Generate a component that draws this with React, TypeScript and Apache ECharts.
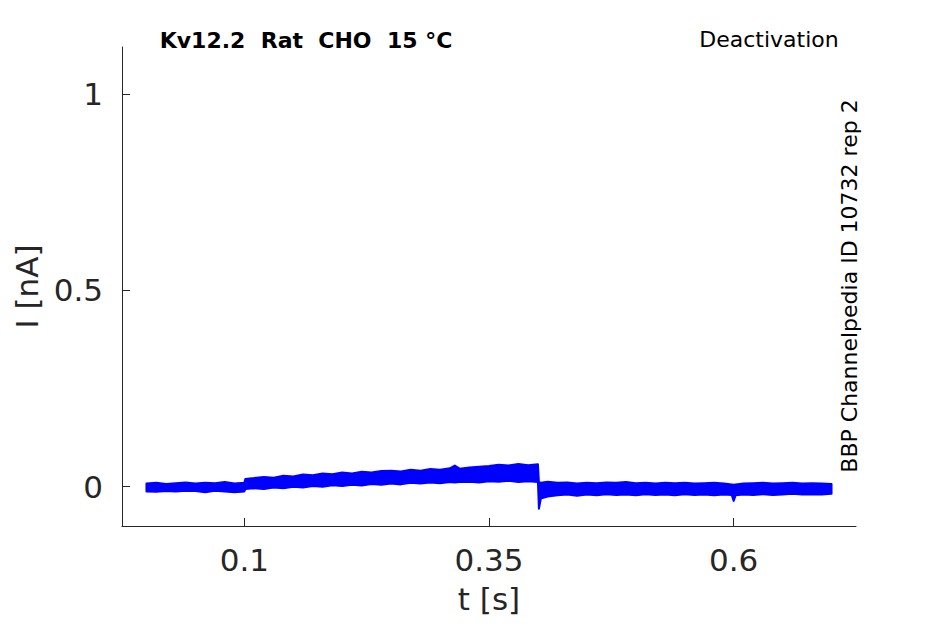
import React, { useEffect, useRef } from "react";
import * as echarts from "echarts";

const times = [
  0.0, 0.01, 0.02, 0.03, 0.04, 0.05, 0.06, 0.07, 0.08, 0.09, 0.1, 0.101, 0.11, 0.12, 0.13, 0.14,
  0.15, 0.16, 0.17, 0.18, 0.19, 0.2, 0.21, 0.22, 0.23, 0.24, 0.25, 0.26, 0.27, 0.28, 0.29, 0.3,
  0.31, 0.315, 0.32, 0.33, 0.34, 0.35, 0.36, 0.37, 0.38, 0.39, 0.4, 0.401, 0.403, 0.41, 0.42,
  0.43, 0.44, 0.45, 0.46, 0.47, 0.48, 0.49, 0.5, 0.51, 0.52, 0.53, 0.54, 0.55, 0.56, 0.57, 0.58,
  0.59, 0.598, 0.6, 0.602, 0.61, 0.62, 0.63, 0.64, 0.65, 0.66, 0.67, 0.68, 0.69, 0.7,
];
const upperEnvelope = [
  0.008, 0.01, 0.007, 0.009, 0.011, 0.008, 0.01, 0.009, 0.012, 0.008, 0.01, 0.02, 0.022, 0.025,
  0.023, 0.028, 0.026, 0.031, 0.029, 0.034, 0.032, 0.036, 0.034, 0.038, 0.036, 0.04, 0.041, 0.039,
  0.043, 0.041, 0.045, 0.043, 0.047, 0.054, 0.046, 0.049, 0.051, 0.053, 0.056, 0.054, 0.058,
  0.055, 0.057, 0.012, 0.01, 0.013, 0.01, 0.011, 0.008, 0.01, 0.009, 0.011, 0.01, 0.012, 0.009,
  0.01, 0.008, 0.01, 0.009, 0.01, 0.008, 0.009, 0.01, 0.008, 0.006, 0.005, 0.006, 0.008, 0.009,
  0.01, 0.008, 0.009, 0.01, 0.008, 0.009, 0.008, 0.007,
];
const lowerEnvelope = [
  -0.012, -0.013, -0.011, -0.012, -0.01, -0.011, -0.014, -0.01, -0.012, -0.014, -0.012, -0.006,
  -0.004, -0.006, -0.002, -0.004, 0.0, -0.002, 0.002, 0.0, 0.004, 0.002, 0.005, 0.003, 0.007,
  0.005, 0.008, 0.006, 0.01, 0.008, 0.011, 0.009, 0.012, 0.011, 0.012, 0.013, 0.011, 0.014, 0.013,
  0.015, 0.012, 0.014, 0.012, -0.056, -0.03, -0.025, -0.022, -0.02, -0.023, -0.02, -0.022, -0.019,
  -0.021, -0.02, -0.022, -0.019, -0.021, -0.02, -0.022, -0.019, -0.021, -0.02, -0.022, -0.02,
  -0.021, -0.036, -0.022, -0.02, -0.021, -0.019, -0.021, -0.02, -0.018, -0.02, -0.019, -0.02,
  -0.018,
];
const xTicks = [0.1, 0.35, 0.6];
const yTicks = [0, 0.5, 1];
const xLabels = ["0.1", "0.35", "0.6"];
const yLabels = ["0", "0.5", "1"];

const FONT = "DejaVu Sans";
const AX = "#262626";

export default function App() {
  const ref = useRef<HTMLDivElement>(null);
  useEffect(() => {
    if (!ref.current) return;
    const chart = echarts.init(ref.current, undefined, { renderer: "svg" });
    const data = times.map((t, i) => [t, upperEnvelope[i], lowerEnvelope[i]]);
    chart.setOption({
      animation: false,
      backgroundColor: "#ffffff",
      grid: { left: 122, right: 89, top: 47, bottom: 98 },
      xAxis: {
        type: "value",
        min: -0.025,
        max: 0.725,
        name: "t [s]",
        nameLocation: "middle",
        nameGap: 57,
        nameTextStyle: { fontFamily: FONT, fontSize: 31, color: AX },
        axisLine: { show: true, onZero: false, lineStyle: { color: AX, width: 1 } },
        axisTick: { show: true, inside: true, length: 8, customValues: xTicks, lineStyle: { color: AX } },
        axisLabel: {
          customValues: xTicks,
          margin: 18,
          fontFamily: FONT,
          fontSize: 31,
          color: AX,
          formatter: (v: number) => xLabels[xTicks.indexOf(v)] ?? String(v),
        },
        splitLine: { show: false },
      },
      yAxis: {
        type: "value",
        min: -0.1,
        max: 1.12,
        name: "I [nA]",
        nameLocation: "middle",
        nameGap: 74,
        nameTextStyle: { fontFamily: FONT, fontSize: 31, color: AX },
        axisLine: { show: true, onZero: false, lineStyle: { color: AX, width: 1 } },
        axisTick: { show: true, inside: true, length: 8, customValues: yTicks, lineStyle: { color: AX } },
        axisLabel: {
          customValues: yTicks,
          margin: 19,
          fontFamily: FONT,
          fontSize: 31,
          color: AX,
          formatter: (v: number) => yLabels[yTicks.indexOf(v)] ?? String(v),
        },
        splitLine: { show: false },
      },
      series: [
        {
          type: "custom",
          silent: true,
          clip: true,
          data,
          encode: { x: 0, y: [1, 2] },
          renderItem: (params: any, api: any) => {
            if (params.dataIndex !== 0) return null;
            const pts: number[][] = [];
            for (let i = 0; i < times.length; i++) pts.push(api.coord([times[i], upperEnvelope[i]]));
            for (let i = times.length - 1; i >= 0; i--) pts.push(api.coord([times[i], lowerEnvelope[i]]));
            return {
              type: "polygon",
              shape: { points: pts },
              style: { fill: "#0000ff", stroke: "#0000ff", lineWidth: 2, lineJoin: "round" },
            };
          },
        },
      ],
      graphic: [
        {
          type: "text",
          x: 306,
          y: 40,
          style: {
            text: "Kv12.2  Rat  CHO  15 °C",
            fill: "#000000",
            font: `bold 22px "${FONT}"`,
            align: "center",
            verticalAlign: "middle",
          },
        },
        {
          type: "text",
          x: 769,
          y: 39,
          style: {
            text: "Deactivation",
            fill: "#000000",
            font: `22px "${FONT}"`,
            align: "center",
            verticalAlign: "middle",
          },
        },
        {
          type: "text",
          x: 849,
          y: 286,
          rotation: Math.PI / 2,
          style: {
            text: "BBP Channelpedia ID 10732 rep 2",
            fill: "#000000",
            font: `22px "${FONT}"`,
            align: "center",
            verticalAlign: "middle",
          },
        },
      ],
    });
    return () => chart.dispose();
  }, []);
  return (
    <div
      ref={ref}
      style={{ position: "fixed", left: 0, top: 0, width: 945, height: 624, background: "#fff" }}
    />
  );
}
